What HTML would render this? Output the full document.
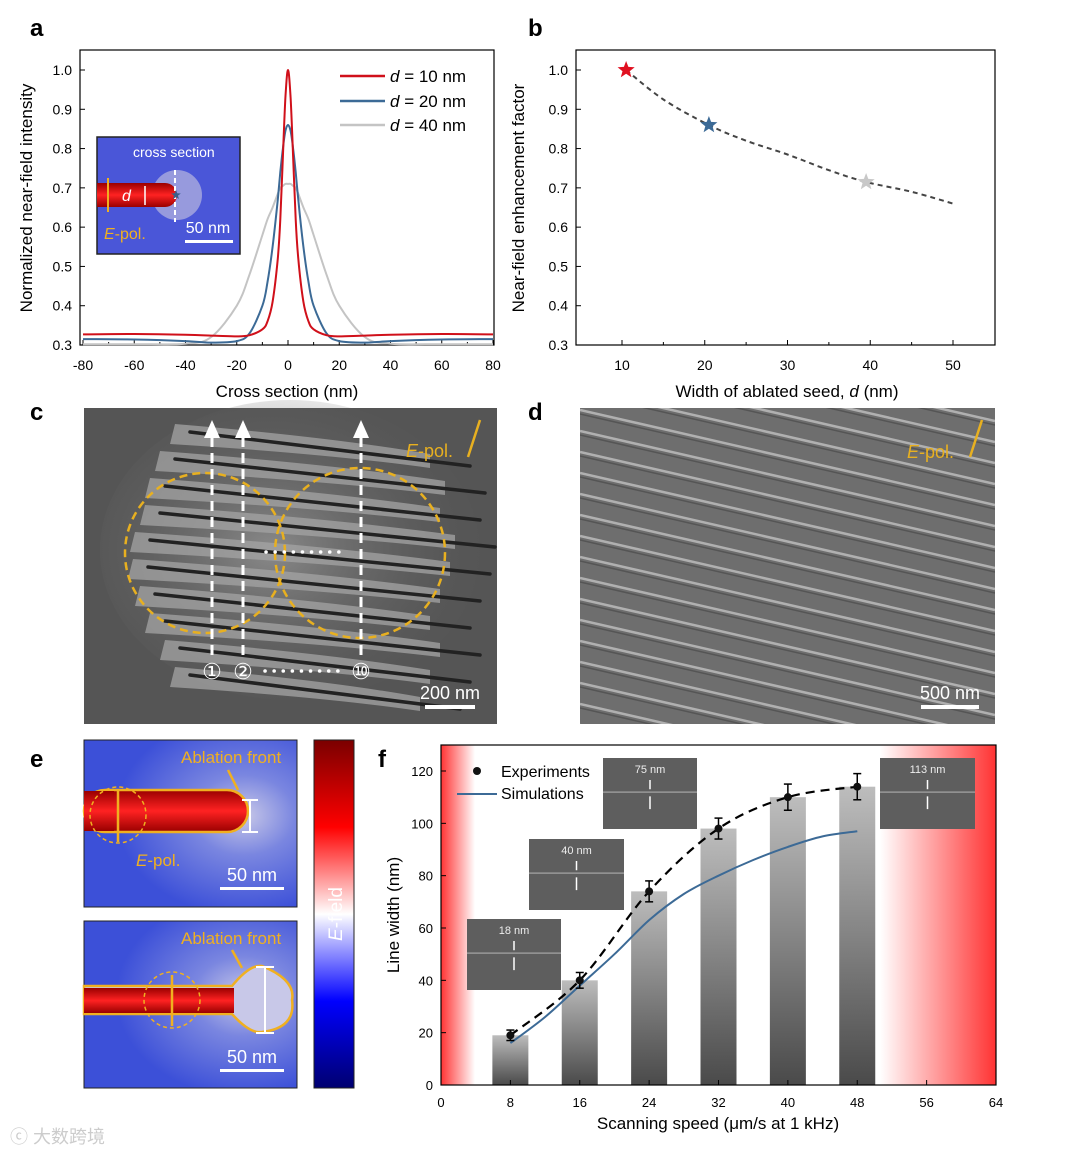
<!DOCTYPE html>
<html><head><meta charset="utf-8"><style>
body{margin:0;background:#fff}
svg{display:block;font-family:"Liberation Sans",Arial,sans-serif}
</style></head><body>
<svg id="fig" width="1080" height="1155" viewBox="0 0 1080 1155">
<defs>
<linearGradient id="barg" x1="0" y1="0" x2="0" y2="1"><stop offset="0" stop-color="#bdbdbd"/><stop offset="1" stop-color="#4a4a4a"/></linearGradient>
<linearGradient id="redL" x1="0" x2="1"><stop offset="0" stop-color="#f33"/><stop offset="1" stop-color="#fff"/></linearGradient>
<linearGradient id="redR" x1="0" x2="1"><stop offset="0" stop-color="#fff"/><stop offset="1" stop-color="#f33"/></linearGradient>
<linearGradient id="cbar" x1="0" y1="0" x2="0" y2="1"><stop offset="0" stop-color="#7a0000"/><stop offset="0.25" stop-color="#f00"/><stop offset="0.5" stop-color="#fff"/><stop offset="0.75" stop-color="#00f"/><stop offset="1" stop-color="#000070"/></linearGradient>
<radialGradient id="efield" cx="0.75" cy="0.45" r="0.6"><stop offset="0" stop-color="#c8c8e8"/><stop offset="0.4" stop-color="#7a86e0"/><stop offset="1" stop-color="#3c50d8"/></radialGradient>
<linearGradient id="rod" x1="0" y1="0" x2="0" y2="1"><stop offset="0" stop-color="#900"/><stop offset="0.5" stop-color="#f22"/><stop offset="1" stop-color="#900"/></linearGradient>
<radialGradient id="semc" cx="0.45" cy="0.5" r="0.6"><stop offset="0" stop-color="#8a8a8a"/><stop offset="1" stop-color="#555" stop-opacity="0"/></radialGradient>
</defs>

<text x="30" y="36" font-size="24" font-weight="bold">a</text>
<text x="528" y="36" font-size="24" font-weight="bold">b</text>
<text x="30" y="420" font-size="24" font-weight="bold">c</text>
<text x="528" y="420" font-size="24" font-weight="bold">d</text>
<text x="30" y="767" font-size="24" font-weight="bold">e</text>
<text x="378" y="767" font-size="24" font-weight="bold">f</text>

<g id="pa"></g>
<g id="pb"></g>

<g>
<rect x="84" y="408" width="413" height="316" fill="#555"/>
<ellipse cx="290" cy="550" rx="190" ry="150" fill="url(#semc)"/>
<clipPath id="cclip"><rect x="84" y="408" width="413" height="316"/></clipPath>
<g id="cLines" clip-path="url(#cclip)"></g>
<circle cx="205" cy="553" r="80" fill="none" stroke="#e8b020" stroke-width="2.5" stroke-dasharray="8,5"/>
<circle cx="360" cy="553" r="85" fill="none" stroke="#e8b020" stroke-width="2.5" stroke-dasharray="8,5"/>
<g stroke="#fff" stroke-width="3" stroke-dasharray="10,6" fill="none">
<line x1="212" y1="655" x2="212" y2="435"/><line x1="243" y1="655" x2="243" y2="435"/><line x1="361" y1="655" x2="361" y2="435"/></g>
<g fill="#fff"><polygon points="212,420 204,438 220,438"/><polygon points="243,420 235,438 251,438"/><polygon points="361,420 353,438 369,438"/></g>
<line x1="266" y1="552" x2="340" y2="552" stroke="#fff" stroke-width="3.5" stroke-dasharray="0.1,9" stroke-linecap="round"/>
<line x1="265" y1="671" x2="340" y2="671" stroke="#fff" stroke-width="3.5" stroke-dasharray="0.1,9" stroke-linecap="round"/>
<text x="212" y="679" font-size="22" fill="#fff" text-anchor="middle">①</text>
<text x="243" y="679" font-size="22" fill="#fff" text-anchor="middle">②</text>
<text x="361" y="679" font-size="22" fill="#fff" text-anchor="middle">⑩</text>
<text x="406" y="457" font-size="18" fill="#e8b020"><tspan font-style="italic">E</tspan>-pol.</text>
<line x1="468" y1="457" x2="480" y2="420" stroke="#e8b020" stroke-width="2.5"/>
<text x="450" y="699" font-size="18" fill="#fff" text-anchor="middle">200 nm</text>
<rect x="425" y="705" width="50" height="4" fill="#fff"/>
</g>

<g>
<rect x="580" y="408" width="415" height="316" fill="#6e6e6e"/>
<clipPath id="dclip"><rect x="580" y="408" width="415" height="316"/></clipPath>
<g id="dLines" clip-path="url(#dclip)"></g>
<text x="907" y="458" font-size="18" fill="#e8b020"><tspan font-style="italic">E</tspan>-pol.</text>
<line x1="970" y1="457" x2="982" y2="420" stroke="#e8b020" stroke-width="2.5"/>
<text x="950" y="699" font-size="18" fill="#fff" text-anchor="middle">500 nm</text>
<rect x="921" y="705" width="58" height="4" fill="#fff"/>
</g>

<g>
<rect x="84" y="740" width="213" height="167" fill="url(#efield)" stroke="#222"/>
<rect x="84" y="790" width="164" height="42" rx="21" fill="url(#rod)" stroke="#f0b020" stroke-width="2.5"/>
<rect x="84" y="791" width="30" height="40" fill="url(#rod)"/>
<circle cx="118" cy="815" r="28" fill="none" stroke="#f0b020" stroke-width="1.5" stroke-dasharray="4,3"/>
<line x1="118" y1="790" x2="118" y2="842" stroke="#f0b020" stroke-width="2.5"/>
<line x1="250" y1="800" x2="250" y2="832" stroke="#fff" stroke-width="2"/><line x1="242" y1="800" x2="258" y2="800" stroke="#fff" stroke-width="2"/><line x1="242" y1="832" x2="258" y2="832" stroke="#fff" stroke-width="2"/>
<text x="181" y="763" font-size="17" fill="#f0b020">Ablation front</text>
<line x1="228" y1="770" x2="238" y2="790" stroke="#f0b020" stroke-width="2.5"/>
<text x="136" y="866" font-size="17" fill="#f0b020"><tspan font-style="italic">E</tspan>-pol.</text>
<text x="252" y="881" font-size="18" fill="#fff" text-anchor="middle">50 nm</text>
<rect x="220" y="887" width="64" height="3" fill="#fff"/>

<rect x="84" y="921" width="213" height="167" fill="url(#efield)" stroke="#222"/>
<path d="M84,986 L232,986 Q250,964 262,966 Q296,980 292,1000 Q296,1028 262,1032 Q250,1034 232,1014 L84,1014 Z" fill="#c8c8e8" stroke="#f0b020" stroke-width="2.5"/>
<rect x="84" y="988" width="150" height="25" fill="url(#rod)"/>
<circle cx="172" cy="1000" r="28" fill="none" stroke="#f0b020" stroke-width="1.5" stroke-dasharray="4,3"/>
<line x1="172" y1="975" x2="172" y2="1026" stroke="#f0b020" stroke-width="2.5"/>
<line x1="265" y1="967" x2="265" y2="1033" stroke="#fff" stroke-width="2"/><line x1="256" y1="967" x2="274" y2="967" stroke="#fff" stroke-width="2"/><line x1="256" y1="1033" x2="274" y2="1033" stroke="#fff" stroke-width="2"/>
<text x="181" y="944" font-size="17" fill="#f0b020">Ablation front</text>
<line x1="232" y1="950" x2="242" y2="968" stroke="#f0b020" stroke-width="2.5"/>
<text x="252" y="1063" font-size="18" fill="#fff" text-anchor="middle">50 nm</text>
<rect x="220" y="1069" width="64" height="3" fill="#fff"/>

<rect x="314" y="740" width="40" height="348" fill="url(#cbar)" stroke="#222"/>
<text transform="translate(342,914) rotate(-90)" font-size="19" fill="#fff" text-anchor="middle"><tspan font-style="italic">E</tspan>-field</text>
</g>

<g id="pf"></g>
<text x="10" y="1143" font-size="18" fill="#ccc">ⓒ 大数跨境</text>
</svg>
<script>
const aX=[-80,-60,-40,-30,-20,-15,-10,-8,-6,-4,-3,-2,-1,0,1,2,3,4,6,8,10,15,20,30,40,60,80];
const aRed=[0.327,0.328,0.326,0.324,0.322,0.325,0.34,0.36,0.41,0.52,0.62,0.78,0.93,1.0,0.93,0.78,0.62,0.52,0.41,0.36,0.34,0.325,0.322,0.324,0.326,0.328,0.327];
const aBlue=[0.315,0.314,0.31,0.306,0.31,0.33,0.40,0.46,0.55,0.67,0.74,0.80,0.845,0.86,0.845,0.80,0.74,0.67,0.55,0.46,0.40,0.33,0.31,0.306,0.31,0.314,0.315];
const aGray=[0.302,0.302,0.303,0.32,0.40,0.48,0.58,0.62,0.65,0.685,0.70,0.705,0.71,0.71,0.71,0.705,0.70,0.685,0.65,0.62,0.58,0.48,0.40,0.32,0.303,0.302,0.302];
const aXTicks=[-80,-60,-40,-20,0,20,40,60,80];
const aYTicks=[0.3,0.4,0.5,0.6,0.7,0.8,0.9,1.0];
const bD=[10.5,20.5,39.5];
const bF=[1.0,0.86,0.715];
const bCurveD=[10.5,15,20.5,25,30,35,39.5,45,50];
const bCurveF=[1.0,0.925,0.86,0.82,0.785,0.745,0.715,0.69,0.66];
const bXTicks=[10,20,30,40,50];
const fSpeed=[8,16,24,32,40,48];
const fWidth=[19,40,74,98,110,114];
const fErr=[2,3,4,4,5,5];
const fSimX=[8,12,16,20,24,28,32,36,40,44,48];
const fSimY=[16,26,38,50,63,73,80,86,91,95,97];
const fXTicks=[0,8,16,24,32,40,48,56,64];
const fYTicks=[0,20,40,60,80,100,120];

const NS="http://www.w3.org/2000/svg";
function mk(p,tag,at,txt){const e=document.createElementNS(NS,tag);for(const k in at)e.setAttribute(k,at[k]);if(txt!==undefined)e.textContent=txt;p.appendChild(e);return e;}
function smooth(xs,ys,sx,sy){
 const P=xs.map((v,i)=>[sx(v),sy(ys[i])]);let d="M"+P[0][0].toFixed(1)+","+P[0][1].toFixed(1);
 for(let i=0;i<P.length-1;i++){const p0=P[i-1]||P[i],p1=P[i],p2=P[i+1],p3=P[i+2]||p2;
  const c1=[p1[0]+(p2[0]-p0[0])/6,p1[1]+(p2[1]-p0[1])/6],c2=[p2[0]-(p3[0]-p1[0])/6,p2[1]-(p3[1]-p1[1])/6];
  d+=` C${c1[0].toFixed(1)},${c1[1].toFixed(1)} ${c2[0].toFixed(1)},${c2[1].toFixed(1)} ${p2[0].toFixed(1)},${p2[1].toFixed(1)}`;}
 return d;}
function star(cx,cy,r){let s=[];for(let i=0;i<10;i++){const a=-Math.PI/2+i*Math.PI/5,rr=i%2?r*0.42:r;s.push((cx+rr*Math.cos(a)).toFixed(1)+","+(cy+rr*Math.sin(a)).toFixed(1));}return s.join(" ");}

(function(){
const g=document.getElementById('pa');
const L=80,R=494,T=50,B=345;
const sx=v=>83+(v+80)*(493-83)/160, sy=v=>345-(v-0.3)*(275/0.7);
const box=mk(g,'rect',{x:L,y:T,width:R-L,height:B-T,fill:'none',stroke:'#000','stroke-width':1.2});


aXTicks.forEach(v=>{mk(g,'line',{x1:sx(v),y1:B,x2:sx(v),y2:B-5,stroke:'#000'});mk(g,'text',{x:sx(v),y:B+25,'font-size':14,'text-anchor':'middle'},String(v));});
for(let v=-70;v<=70;v+=20)mk(g,'line',{x1:sx(v),y1:B,x2:sx(v),y2:B-3,stroke:'#000'});
aYTicks.forEach(v=>{mk(g,'line',{x1:L,y1:sy(v),x2:L+5,y2:sy(v),stroke:'#000'});mk(g,'text',{x:L-8,y:sy(v)+5,'font-size':14,'text-anchor':'end'},v.toFixed(1));});
const ins=mk(g,'g',{});


mk(ins,'rect',{x:97,y:137,width:143,height:117,fill:'#4a56d8',stroke:'#222','stroke-width':1.5});
mk(ins,'circle',{cx:177,cy:195,r:25,fill:'#b8b8e0',opacity:0.7});
mk(ins,'rect',{x:97,y:183,width:80,height:24,rx:12,fill:'url(#rod)'});
mk(ins,'rect',{x:97,y:183,width:20,height:24,fill:'url(#rod)'});
mk(ins,'line',{x1:108,y1:178,x2:108,y2:212,stroke:'#f0b020','stroke-width':2});
mk(ins,'line',{x1:145,y1:186,x2:145,y2:205,stroke:'#fff','stroke-width':1.5});
mk(ins,'text',{x:122,y:201,'font-size':16,fill:'#fff','font-style':'italic'},'d');
mk(ins,'line',{x1:175,y1:170,x2:175,y2:222,stroke:'#fff','stroke-width':2,'stroke-dasharray':'5,3'});
mk(ins,'polygon',{points:star(176,195,5),fill:'#3a5f8a'});
mk(ins,'text',{x:133,y:157,'font-size':14,fill:'#fff'},'cross section');
const ep=mk(ins,'text',{x:104,y:239,'font-size':16,fill:'#f0b020'});mk(ep,'tspan',{'font-style':'italic'},'E');mk(ep,'tspan',{},'-pol.');
mk(ins,'text',{x:208,y:233,'font-size':16,fill:'#fff','text-anchor':'middle'},'50 nm');
mk(ins,'rect',{x:185,y:240,width:48,height:3,fill:'#fff'});
[[aGray,'#c4c4c4','40'],[aBlue,'#3c6a96','20'],[aRed,'#d0101a','10']].forEach(([ys,c,n])=>{
 const pl=mk(g,'path',{d:smooth(aX,ys,sx,sy),fill:'none',stroke:c,'stroke-width':2,'stroke-linejoin':'round'});
 
 
});
[['#d0101a','10',76],['#3c6a96','20',101],['#c4c4c4','40',125]].forEach(([c,n,y])=>{
 const lg=mk(g,'g',{});
 
 
 mk(lg,'line',{x1:340,y1:y,x2:385,y2:y,stroke:c,'stroke-width':2.5});
 const t=mk(lg,'text',{x:390,y:y+6,'font-size':17});mk(t,'tspan',{'font-style':'italic'},'d');mk(t,'tspan',{},' = '+n+' nm');
});
mk(g,'text',{x:287,y:397,'font-size':17,'text-anchor':'middle'},'Cross section (nm)');
mk(g,'text',{transform:'translate(32,198) rotate(-90)','font-size':17,'text-anchor':'middle'},'Normalized near-field intensity');
})();

(function(){
const g=document.getElementById('pb');
const L=576,R=995,T=50,B=345;
const sx=v=>622+(v-10)*(953-622)/40, sy=v=>345-(v-0.3)*(275/0.7);
const box=mk(g,'rect',{x:L,y:T,width:R-L,height:B-T,fill:'none',stroke:'#000','stroke-width':1.2});


bXTicks.forEach(v=>{mk(g,'line',{x1:sx(v),y1:B,x2:sx(v),y2:B-5,stroke:'#000'});mk(g,'text',{x:sx(v),y:B+25,'font-size':14,'text-anchor':'middle'},String(v));});
for(let v=15;v<=45;v+=10)mk(g,'line',{x1:sx(v),y1:B,x2:sx(v),y2:B-3,stroke:'#000'});
aYTicks.forEach(v=>{mk(g,'line',{x1:L,y1:sy(v),x2:L+5,y2:sy(v),stroke:'#000'});mk(g,'text',{x:L-8,y:sy(v)+5,'font-size':14,'text-anchor':'end'},v.toFixed(1));});
const c=mk(g,'path',{d:smooth(bCurveD,bCurveF,sx,sy),fill:'none',stroke:'#444','stroke-width':2,'stroke-dasharray':'5,4'});


const cols=['#e01020','#3c6a96','#c8c8c8'];
bD.forEach((d,i)=>{const s=mk(g,'polygon',{points:star(sx(d),sy(bF[i]),9),fill:cols[i]});
 
 });
const xl=mk(g,'text',{x:787,y:397,'font-size':17,'text-anchor':'middle'});mk(xl,'tspan',{},'Width of ablated seed, ');mk(xl,'tspan',{'font-style':'italic'},'d');mk(xl,'tspan',{},' (nm)');
mk(g,'text',{transform:'translate(524,198) rotate(-90)','font-size':17,'text-anchor':'middle'},'Near-field enhancement factor');
})();

(function(){
const gc=document.getElementById('cLines');
const starts=[190,175,165,160,150,148,155,165,180,190];
const ends=[470,485,480,495,490,480,470,480,470,460];
for(let i=0;i<10;i++){const y=432+i*27,x0=starts[i],x1=ends[i];
 mk(gc,'path',{d:`M${x0-15},${y-8} Q${(x0+x1)/2},${y+5} ${x1-40},${y+22} L${x1-40},${y+36} Q${(x0+x1)/2},${y+22} ${x0-20},${y+12} Z`,fill:'#a4a4a4',opacity:0.75});
 mk(gc,'line',{x1:x0,y1:y,x2:x1,y2:y+34,stroke:'#222','stroke-width':3.5,'stroke-linecap':'round'});}
const gd=document.getElementById('dLines');
for(let i=-8;i<20;i++){const y=410+i*21;
 mk(gd,'line',{x1:580,y1:y,x2:995,y2:y+95,stroke:'#b0b0b0','stroke-width':2.5});
 mk(gd,'line',{x1:580,y1:y+4,x2:995,y2:y+99,stroke:'#555','stroke-width':1.5});}
})();

(function(){
const g=document.getElementById('pf');
const L=441,R=996,T=745,B=1085;
const sx=v=>441+v*(R-441)/64, sy=v=>1085-v*(314/120);
mk(g,'rect',{x:L,y:T,width:34,height:B-T,fill:'url(#redL)'});
mk(g,'rect',{x:880,y:T,width:R-880,height:B-T,fill:'url(#redR)'});
fSpeed.forEach((s,i)=>{const b=mk(g,'rect',{x:sx(s)-18,y:sy(fWidth[i]),width:36,height:B-sy(fWidth[i]),fill:'url(#barg)'});
 
 });
[[467,919,94,71,'18 nm'],[529,839,95,71,'40 nm'],[603,758,94,71,'75 nm'],[880,758,95,71,'113 nm']].forEach(([x,y,w,h,t])=>{
 const ig=mk(g,'g',{});
 
 
 mk(ig,'rect',{x:x,y:y,width:w,height:h,fill:'#5e5e5e'});
 mk(ig,'line',{x1:x,y1:y+h*0.48,x2:x+w,y2:y+h*0.48,stroke:'#999','stroke-width':1.5});
 mk(ig,'text',{x:x+w/2,y:y+15,'font-size':11,fill:'#eee','text-anchor':'middle'},t);
 mk(ig,'line',{x1:x+w/2,y1:y+22,x2:x+w/2,y2:y+h*0.44,stroke:'#fff','stroke-width':1.5});
 mk(ig,'line',{x1:x+w/2,y1:y+h*0.54,x2:x+w/2,y2:y+h*0.72,stroke:'#fff','stroke-width':1.5});
});
const dl=mk(g,'path',{d:smooth(fSpeed,fWidth,sx,sy),fill:'none',stroke:'#000','stroke-width':2.2,'stroke-dasharray':'9,6'});


const sl=mk(g,'path',{d:smooth(fSimX,fSimY,sx,sy),fill:'none',stroke:'#3c6a96','stroke-width':2});


fSpeed.forEach((s,i)=>{const x=sx(s),y1=sy(fWidth[i]+fErr[i]),y2=sy(fWidth[i]-fErr[i]);
 const eg=mk(g,'g',{});
 
 
 mk(eg,'line',{x1:x,y1:y1,x2:x,y2:y2,stroke:'#000','stroke-width':1.5});
 mk(eg,'line',{x1:x-4,y1:y1,x2:x+4,y2:y1,stroke:'#000','stroke-width':1.5});
 mk(eg,'line',{x1:x-4,y1:y2,x2:x+4,y2:y2,stroke:'#000','stroke-width':1.5});
 mk(eg,'circle',{cx:x,cy:sy(fWidth[i]),r:4,fill:'#111'});});
const box=mk(g,'rect',{x:L,y:T,width:R-L,height:B-T,fill:'none',stroke:'#000','stroke-width':1.2});


fXTicks.forEach(v=>{mk(g,'line',{x1:sx(v),y1:B,x2:sx(v),y2:B-5,stroke:'#000'});mk(g,'text',{x:sx(v),y:B+22,'font-size':13,'text-anchor':'middle'},String(v));});
fYTicks.forEach(v=>{mk(g,'line',{x1:L,y1:sy(v),x2:L+5,y2:sy(v),stroke:'#000'});mk(g,'text',{x:L-8,y:sy(v)+5,'font-size':13,'text-anchor':'end'},String(v));});
mk(g,'circle',{cx:477,cy:771,r:4,fill:'#111'});
mk(g,'text',{x:501,y:777,'font-size':16},'Experiments');
mk(g,'line',{x1:457,y1:794,x2:497,y2:794,stroke:'#3c6a96','stroke-width':2});
mk(g,'text',{x:501,y:799,'font-size':16},'Simulations');
mk(g,'text',{x:718,y:1129,'font-size':17,'text-anchor':'middle'},'Scanning speed (μm/s at 1 kHz)');
mk(g,'text',{transform:'translate(399,915) rotate(-90)','font-size':17,'text-anchor':'middle'},'Line width (nm)');
})();
</script>
</body></html>
